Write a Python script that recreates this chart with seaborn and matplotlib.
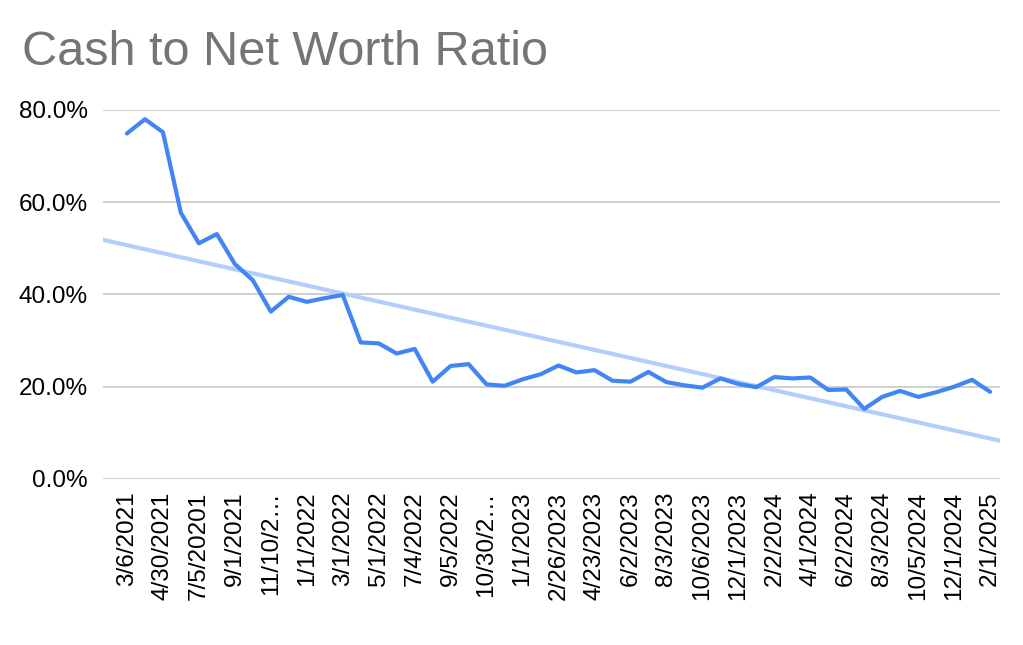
import matplotlib
matplotlib.use("Agg")
import matplotlib.pyplot as plt
from matplotlib.ticker import FuncFormatter
import numpy as np
import pandas as pd
import seaborn as sns

# cash / net worth, percent, one reading per point (49 points)
ratio_pct = [74.9, 78.0, 75.2, 57.7, 51.1, 53.1, 46.6, 43.1, 36.3, 39.5,
             38.4, 39.2, 39.9, 29.6, 29.4, 27.2, 28.2, 21.1, 24.5, 24.9,
             20.5, 20.2, 21.6, 22.7, 24.6, 23.1, 23.6, 21.3, 21.1, 23.2,
             21.0, 20.3, 19.8, 21.8, 20.6, 19.9, 22.1, 21.8, 22.0, 19.3,
             19.4, 15.2, 17.8, 19.1, 17.8, 18.8, 20.0, 21.5, 18.9]

# only every other date is shown on the axis
tick_labels = ["3/6/2021", "4/30/2021", "7/5/20201", "9/1/2021", "11/10/2\u2026",
               "1/1/2022", "3/1/2022", "5/1/2022", "7/4/2022", "9/5/2022",
               "10/30/2\u2026", "1/1/2023", "2/26/2023", "4/23/2023", "6/2/2023",
               "8/3/2023", "10/6/2023", "12/1/2023", "2/2/2024", "4/1/2024",
               "6/2/2024", "8/3/2024", "10/5/2024", "12/1/2024", "2/1/2025"]

sns.set_style("white")
plt.rcParams['font.family'] = ['Liberation Sans', 'DejaVu Sans']

df = pd.DataFrame({"idx": np.arange(len(ratio_pct)), "ratio": ratio_pct})

fig = plt.figure(figsize=(10.23, 6.45), dpi=100)
ax = fig.add_axes([0.1007, 0.2574, 0.8768, 0.5721])

xlim = (-1.33, 48.55)

# linear trendline over the whole plot width
slope, icept = np.polyfit(df["idx"], df["ratio"], 1)
trend = pd.DataFrame({"idx": list(xlim)})
trend["ratio"] = icept + slope * trend["idx"]
sns.lineplot(data=trend, x="idx", y="ratio", ax=ax, color="#B3CEFB", linewidth=3.0)

sns.lineplot(data=df, x="idx", y="ratio", ax=ax, color="#4285F4", linewidth=3.0)

ax.set_xlim(*xlim)
ax.set_ylim(0, 80)
ax.set_yticks([0, 20, 40, 60, 80])
ax.yaxis.set_major_formatter(FuncFormatter(lambda v, p: f"{v:.1f}%"))
ax.set_xticks(df["idx"][::2])
ax.set_xticklabels(tick_labels, rotation=90, ha="center", va="top")
ax.tick_params(axis="both", length=0, labelsize=17.5, colors="black")
ax.tick_params(axis="y", pad=11)
ax.tick_params(axis="x", pad=9)
ax.grid(axis="y", color="#cccccc", linewidth=1.3)
ax.set_axisbelow(True)
for s in ax.spines.values():
    s.set_visible(False)
ax.set_xlabel("")
ax.set_ylabel("")

fig.text(0.0215, 0.899, "Cash to Net Worth Ratio", fontsize=35, color="#757575",
         ha="left", va="baseline")

fig.savefig("out.png", dpi=100)
